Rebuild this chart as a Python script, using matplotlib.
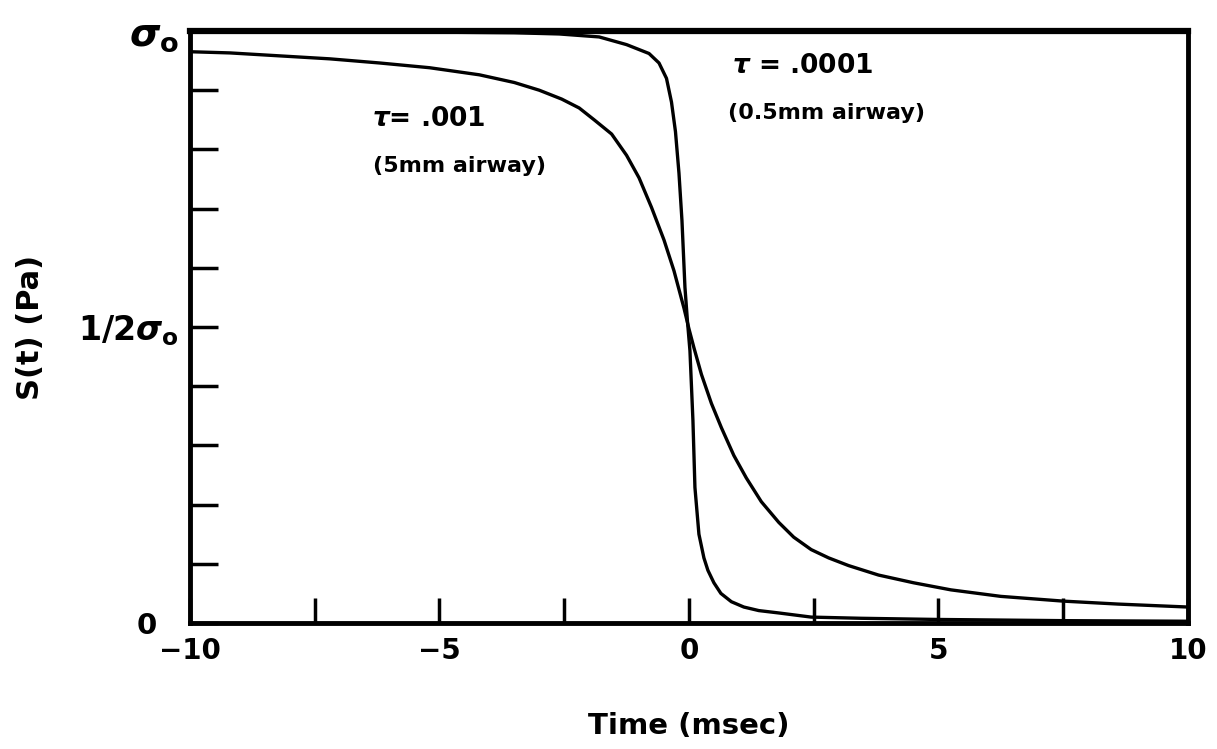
import matplotlib
matplotlib.use("Agg")
import matplotlib.pyplot as plt
from matplotlib.transforms import ScaledTranslation

# values
# tau = .001 (5mm airway)
t_slow = [-10, -9.2, -8.2, -7.2, -6.2, -5.2, -4.2, -3.5, -3.0, -2.55,
          -2.2, -1.9, -1.55, -1.25, -1.0, -0.75, -0.5, -0.3, -0.1, 0.0,
          0.1, 0.25, 0.45, 0.65, 0.9, 1.15, 1.45, 1.8, 2.1, 2.45,
          2.8, 3.2, 3.8, 4.5, 5.25, 6.25, 7.5, 8.6, 10]
s_slow = [0.965, 0.963, 0.958, 0.953, 0.946, 0.938, 0.926, 0.913, 0.900, 0.885,
          0.870, 0.850, 0.826, 0.790, 0.752, 0.702, 0.647, 0.595, 0.532, 0.497,
          0.465, 0.420, 0.371, 0.330, 0.283, 0.245, 0.205, 0.170, 0.145, 0.124,
          0.110, 0.097, 0.081, 0.068, 0.056, 0.045, 0.037, 0.032, 0.027]

# tau = .0001 (0.5mm airway)
t_fast = [-10, -7, -5, -3.5, -2.6, -1.8, -1.25, -0.8, -0.6, -0.45,
          -0.35, -0.27, -0.2, -0.14, -0.08, -0.03, 0.02, 0.08, 0.12, 0.2,
          0.3, 0.38, 0.5, 0.64, 0.85, 1.1, 1.4, 1.8, 2.45, 3.45,
          5, 7.5, 10]
s_fast = [0.999, 0.999, 0.998, 0.997, 0.995, 0.990, 0.977, 0.962, 0.946, 0.920,
          0.880, 0.830, 0.760, 0.680, 0.567, 0.51, 0.46, 0.342, 0.229, 0.150,
          0.110, 0.089, 0.068, 0.050, 0.036, 0.027, 0.021, 0.017, 0.010, 0.008,
          0.006, 0.004, 0.003]

x_ticks = [-10, -7.5, -5, -2.5, 0, 2.5, 5, 7.5, 10]
x_labels = ["\u221210", "", "\u22125", "", "0", "", "5", "", "10"]
y_ticks = [0, 0.1, 0.2, 0.3, 0.4, 0.5, 0.6, 0.7, 0.8, 0.9, 1.0]
y_labels = ["0", "", "", "", "", r"1/2$\sigma_\mathrm{o}$", "", "", "", "", r"$\sigma_\mathrm{o}$"]

plt.rcParams.update({
    "font.family": ["DejaVu Sans"],
    "font.weight": "bold",
    "mathtext.fontset": "dejavusans",
})

fig = plt.figure(figsize=(12.17, 7.49), dpi=100)
ax = fig.add_axes([0.1561, 0.1682, 0.8200, 0.7904])

ax.plot(t_slow, s_slow, color="black", lw=2.4, solid_joinstyle="round")
ax.plot(t_fast, s_fast, color="black", lw=2.4, solid_joinstyle="round")

ax.set_xlim(-10, 10)
ax.set_ylim(0, 1)
for sp in ax.spines.values():
    sp.set_linewidth(3.5)
ax.spines["top"].set_linewidth(4.5)

ax.set_xticks(x_ticks)
ax.set_xticklabels(x_labels, fontsize=20, fontweight="bold")
ax.set_yticks(y_ticks)
ax.set_yticklabels(y_labels, fontsize=21, fontweight="bold")
ax.tick_params(axis="x", direction="in", length=18, width=2.5, pad=10)
ax.tick_params(axis="y", direction="in", length=20, width=2.5, pad=8)

# the "0" sits further left, the sigma labels a bit bigger
ylbls = ax.get_yticklabels()
ylbls[0].set_transform(ylbls[0].get_transform() + ScaledTranslation(-16 / 72, 0, fig.dpi_scale_trans))
ylbls[5].set_fontsize(24)
ylbls[10].set_fontsize(28)

ax.set_xlabel("Time (msec)", fontsize=21, fontweight="bold", labelpad=34)
ax.set_ylabel("S(t) (Pa)", fontsize=22, fontweight="bold", labelpad=24)

ax.text(-6.35, 0.852, r"$\tau$= .001", fontsize=19, fontweight="bold", va="center", ha="left")
ax.text(-6.33, 0.772, "(5mm airway)", fontsize=16, fontweight="bold", va="center", ha="left")
ax.text(0.86, 0.941, r"$\tau$ = .0001", fontsize=19, fontweight="bold", va="center", ha="left")
ax.text(0.78, 0.862, "(0.5mm airway)", fontsize=16, fontweight="bold", va="center", ha="left")

fig.savefig("out.png", dpi=100, facecolor="white")
